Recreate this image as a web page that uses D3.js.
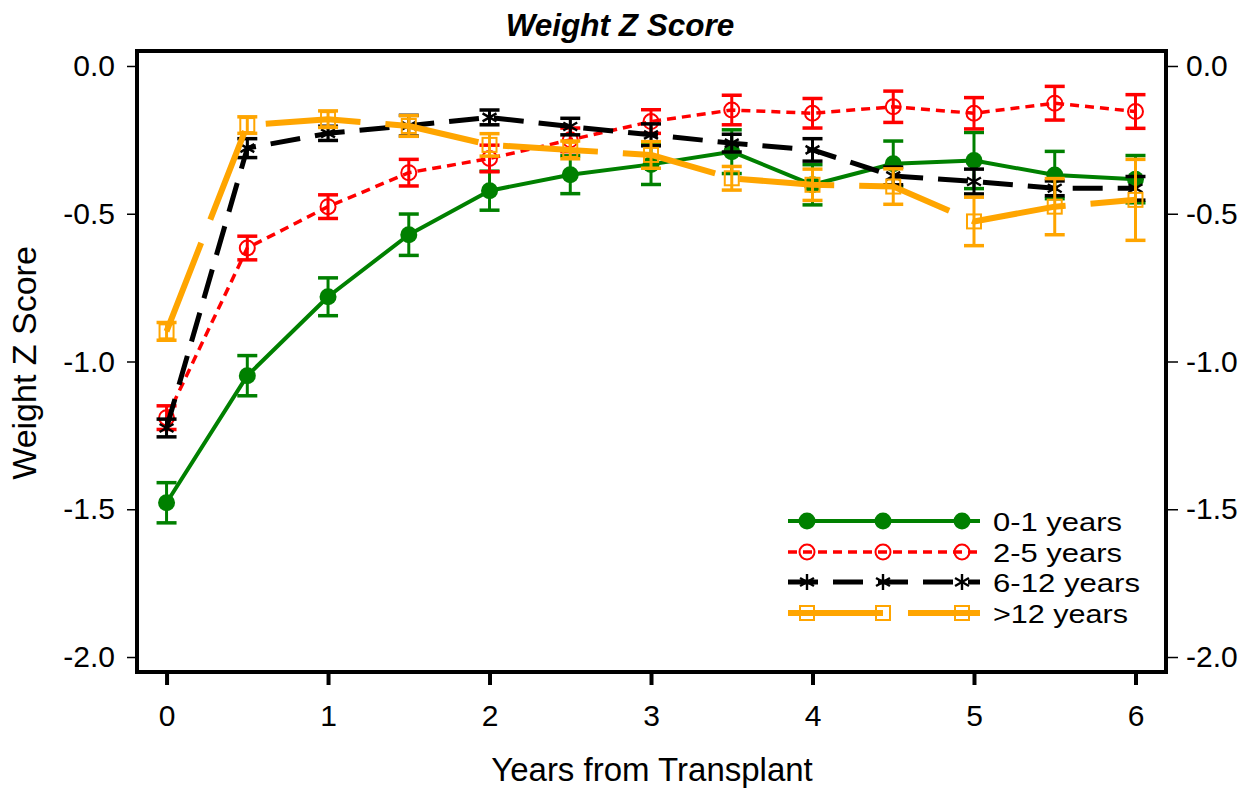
<!DOCTYPE html>
<html><head><meta charset="utf-8">
<script src="https://cdn.jsdelivr.net/npm/d3@7"></script>
<style>body{margin:0;background:#fff}svg{display:block}text{font-family:"Liberation Sans",Arial,sans-serif}</style>
</head><body><svg id="c" width="1249" height="788"></svg>
<script>
const years = [0,0.5,1,1.5,2,2.5,3,3.5,4,4.5,5,5.5,6];
const xTicks = [0,1,2,3,4,5,6];
const yTicks = [0,-0.5,-1,-1.5,-2];
const yTickLabels = ["0.0","-0.5","-1.0","-1.5","-2.0"];
const seriesNames = ["0-1 years","2-5 years","6-12 years",">12 years"];
const g01 = [-1.478,-1.048,-0.781,-0.571,-0.422,-0.368,-0.333,-0.29,-0.402,-0.331,-0.32,-0.369,-0.383];
const g01Err = [0.068,0.068,0.064,0.07,0.066,0.064,0.068,0.074,0.068,0.077,0.095,0.08,0.08];
const g25 = [-1.19,-0.616,-0.476,-0.361,-0.313,-0.25,-0.188,-0.149,-0.16,-0.138,-0.16,-0.126,-0.154];
const g25Err = [0.04,0.04,0.04,0.045,0.045,0.04,0.04,0.05,0.05,0.053,0.053,0.057,0.057];
const g612 = [-1.225,-0.278,-0.228,-0.202,-0.174,-0.205,-0.233,-0.261,-0.284,-0.372,-0.391,-0.414,-0.414];
const g612Err = [0.03,0.032,0.024,0.035,0.025,0.028,0.037,0.03,0.038,0.03,0.042,0.025,0.04];
const g12 = [-0.898,-0.2,-0.18,-0.203,-0.267,-0.284,-0.301,-0.38,-0.402,-0.408,-0.526,-0.476,-0.453];
const g12Err = [0.03,0.028,0.028,0.035,0.038,0.03,0.045,0.04,0.053,0.06,0.082,0.095,0.137];

const series = [
  {name:seriesNames[0], vals:g01, err:g01Err, color:"#008000", width:4, dash:null, marker:"dot"},
  {name:seriesNames[1], vals:g25, err:g25Err, color:"#ff0000", width:3.5, dash:"9,6", marker:"circle"},
  {name:seriesNames[2], vals:g612, err:g612Err, color:"#000000", width:5, dash:"30,15", marker:"star"},
  {name:seriesNames[3], vals:g12, err:g12Err, color:"#ffa500", width:6, dash:"95,25", marker:"square"}
];
const legendTextLen = [129,129,147,135];

const L=137, R=1166, T=51, B=672;
const x = d3.scaleLinear().domain([-0.183,6.189]).range([L,R]);
const y = d3.scaleLinear().domain([-2.0507,0.0507]).range([B,T]);
const svg = d3.select("#c");

function marker(g, type, color, cx, cy){
  if(type==="dot"){
    g.append("circle").attr("cx",cx).attr("cy",cy).attr("r",8.5).attr("fill",color);
  } else if(type==="circle"){
    g.append("circle").attr("cx",cx).attr("cy",cy).attr("r",7.5).attr("fill","none").attr("stroke",color).attr("stroke-width",2);
  } else if(type==="square"){
    g.append("rect").attr("x",cx-7).attr("y",cy-7).attr("width",14).attr("height",14).attr("fill","none").attr("stroke",color).attr("stroke-width",2);
  } else if(type==="star"){
    const s=8;
    [[0,-s,0,s],[-s*0.87,-s*0.5,s*0.87,s*0.5],[-s*0.87,s*0.5,s*0.87,-s*0.5]].forEach(p=>{
      g.append("line").attr("x1",cx+p[0]).attr("y1",cy+p[1]).attr("x2",cx+p[2]).attr("y2",cy+p[3]).attr("stroke",color).attr("stroke-width",2.4);
    });
  }
}

const plot = svg.append("g");
series.forEach(s=>{
  const g = plot.append("g");
  const pts = years.map((yr,i)=>({x:yr,y:s.vals[i],e:s.err[i]}));
  pts.forEach(p=>{
    const cx=x(p.x), y1=y(p.y+p.e), y2=y(p.y-p.e);
    g.append("line").attr("x1",cx).attr("x2",cx).attr("y1",y1).attr("y2",y2).attr("stroke",s.color).attr("stroke-width",3);
    [y1,y2].forEach(yy=>g.append("line").attr("x1",cx-10).attr("x2",cx+10).attr("y1",yy).attr("y2",yy).attr("stroke",s.color).attr("stroke-width",3.5));
  });
  const line = d3.line().x(d=>x(d.x)).y(d=>y(d.y));
  g.append("path").datum(pts).attr("d",line).attr("fill","none").attr("stroke",s.color)
    .attr("stroke-width",s.width).attr("stroke-dasharray",s.dash).attr("stroke-linejoin","round");
  pts.forEach(p=>marker(g,s.marker,s.color,x(p.x),y(p.y)));
});

svg.append("rect").attr("x",L).attr("y",T).attr("width",R-L).attr("height",B-T).attr("fill","none").attr("stroke","#000").attr("stroke-width",4);

const yl = svg.append("g").attr("transform",`translate(${L},0)`)
  .call(d3.axisLeft(y).tickValues(yTicks).tickSize(10).tickPadding(12).tickFormat((d,i)=>yTickLabels[i]));
const yr = svg.append("g").attr("transform",`translate(${R},0)`)
  .call(d3.axisRight(y).tickValues(yTicks).tickSize(12).tickPadding(8).tickFormat((d,i)=>yTickLabels[i]));
const xa = svg.append("g").attr("transform",`translate(0,${B})`)
  .call(d3.axisBottom(x).tickValues(xTicks).tickSize(13).tickPadding(20).tickFormat(d3.format("d")));
[yl,yr,xa].forEach(a=>{
  a.select(".domain").remove();
  a.selectAll("text").attr("font-size",30).attr("fill","#000").style("font-family","'Liberation Sans',Arial,sans-serif");
});
yl.selectAll("line").attr("stroke-width",1.5);
yr.selectAll("line").attr("stroke-width",1.5);
xa.selectAll("line").attr("stroke-width",4);

svg.append("text").attr("x",620).attr("y",36).attr("text-anchor","middle").attr("font-size",31.5)
  .attr("font-weight","bold").attr("font-style","italic").text("Weight Z Score");
svg.append("text").attr("x",652).attr("y",781).attr("text-anchor","middle").attr("font-size",33).text("Years from Transplant");
svg.append("text").attr("transform","translate(36,363) rotate(-90)").attr("text-anchor","middle").attr("font-size",34).text("Weight Z Score");

const legY = [521,552,582,613];
series.forEach((s,i)=>{
  const g = svg.append("g");
  g.append("line").attr("x1",788).attr("x2",980).attr("y1",legY[i]).attr("y2",legY[i])
    .attr("stroke",s.color).attr("stroke-width",s.width).attr("stroke-dasharray",s.dash);
  [807,883,962].forEach(cx=>marker(g,s.marker,s.color,cx,legY[i]));
  g.append("text").attr("x",993).attr("y",legY[i]+10).attr("font-size",26.5)
    .attr("textLength",legendTextLen[i]).attr("lengthAdjust","spacingAndGlyphs").text(s.name);
});
</script></body></html>
